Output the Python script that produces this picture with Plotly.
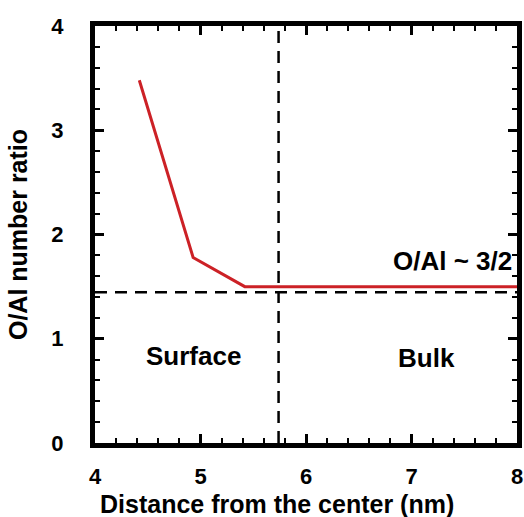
import plotly.graph_objects as go

# Data
distance = [4.42, 4.93, 5.42, 8.0]
ratio = [3.48, 1.78, 1.50, 1.50]
boundary_x = 5.74
bulk_ratio_ref = 1.445
x_range = [4, 8]
y_range = [0, 4]
x_ticks = [4, 5, 6, 7, 8]
y_ticks = [0, 1, 2, 3, 4]
labels = [("Surface", 4.93, 0.83, 26), ("Bulk", 7.14, 0.82, 26), ("O/Al ~ 3/2", 7.39, 1.745, 26)]
x_title = "Distance from the center (nm)"
y_title = "O/Al number ratio"

FONT = "Liberation Sans"

fig = go.Figure()
fig.add_trace(go.Scatter(x=[boundary_x, boundary_x], y=y_range, mode="lines",
                         line=dict(color="black", width=2.5, dash="12px,8px"),
                         showlegend=False, hoverinfo="skip"))
fig.add_trace(go.Scatter(x=x_range, y=[bulk_ratio_ref, bulk_ratio_ref], mode="lines",
                         line=dict(color="black", width=2.5, dash="12px,8px"),
                         showlegend=False, hoverinfo="skip"))
fig.add_trace(go.Scatter(x=distance, y=ratio, mode="lines",
                         line=dict(color="#cc2126", width=3),
                         showlegend=False, cliponaxis=True))

for text, x, y, size in labels:
    fig.add_annotation(x=x, y=y, text=f"<b>{text}</b>", showarrow=False,
                       font=dict(family=FONT, size=size, color="black"))

# x-axis title placed as paper annotation for precise spacing
fig.add_annotation(xref="paper", yref="paper", x=0.432, y=-0.146, yanchor="middle",
                   text=f"<b>{x_title}</b>", showarrow=False,
                   font=dict(family=FONT, size=25, color="black"))

axis_common = dict(
    showgrid=False, zeroline=False, showline=True, linecolor="black", linewidth=5,
    mirror="allticks", ticks="inside", ticklen=9, tickwidth=2.5, tickcolor="black",
    tickfont=dict(family=FONT, size=22, color="black"), automargin=False,
)

fig.update_xaxes(range=x_range, tickvals=x_ticks, ticktext=[f"<b>{v}</b>" for v in x_ticks],
                 minor=dict(dtick=0.2, ticks="inside", ticklen=5, tickwidth=2, tickcolor="black"),
                 ticklabelstandoff=10,
                 **axis_common)
fig.update_yaxes(range=y_range, tickvals=y_ticks, ticktext=[f"<b>{v}</b>" for v in y_ticks],
                 minor=dict(dtick=0.2, ticks="inside", ticklen=5, tickwidth=2, tickcolor="black"),
                 title=dict(text=f"<b>{y_title}</b>",
                            font=dict(family=FONT, size=25, color="black"), standoff=18),
                 ticklabelstandoff=22,
                 **axis_common)

fig.update_layout(width=524, height=517, margin=dict(l=95, r=7, t=26, b=74),
                  plot_bgcolor="white", paper_bgcolor="white")

fig.write_html("out.html")
